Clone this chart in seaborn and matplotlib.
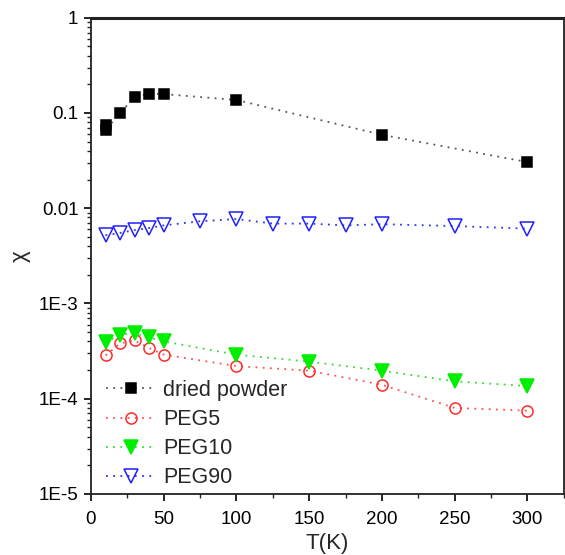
import matplotlib
matplotlib.use("Agg")
import matplotlib.pyplot as plt
import matplotlib.ticker as mticker
import seaborn as sns
import pandas as pd

# Data
t_dried = [10, 10, 20, 30, 40, 50, 100, 200, 300]
chi_dried = [0.075, 0.066, 0.10, 0.147, 0.160, 0.158, 0.137, 0.059, 0.0305]

t_peg5 = [10, 20, 30, 40, 50, 100, 150, 200, 250, 300]
chi_peg5 = [2.85e-4, 3.8e-4, 4.1e-4, 3.4e-4, 2.9e-4, 2.2e-4, 1.97e-4, 1.4e-4, 8.0e-5, 7.5e-5]

t_peg10 = [10, 20, 30, 40, 50, 100, 150, 200, 250, 300]
chi_peg10 = [3.9e-4, 4.7e-4, 4.9e-4, 4.4e-4, 4.0e-4, 2.9e-4, 2.45e-4, 1.97e-4, 1.52e-4, 1.36e-4]

t_peg90 = [10, 20, 30, 40, 50, 75, 100, 125, 150, 175, 200, 250, 300]
chi_peg90 = [5.2e-3, 5.5e-3, 5.9e-3, 6.2e-3, 6.6e-3, 7.3e-3, 7.7e-3, 6.9e-3, 6.9e-3, 6.6e-3, 6.8e-3, 6.5e-3, 6.1e-3]

labels = ["dried powder", "PEG5", "PEG10", "PEG90"]
y_ticks = [1e-5, 1e-4, 1e-3, 1e-2, 1e-1, 1]
y_ticklabels = ["1E-5", "1E-4", "1E-3", "0.01", "0.1", "1"]
x_ticks = [0, 50, 100, 150, 200, 250, 300]

sns.set_theme(style="white")
plt.rcParams["font.family"] = ["Liberation Sans", "DejaVu Sans"]

fig = plt.figure(figsize=(5.65, 5.55), dpi=100)
ax = fig.add_axes([0.161, 0.110, 0.837, 0.858])

series = [
    (t_dried, chi_dried, labels[0], "#555555", "s", "black", "black", 7),
    (t_peg5, chi_peg5, labels[1], "#ff5050", "o", "none", "#ff2a2a", 8),
    (t_peg10, chi_peg10, labels[2], "#33dd33", "v", "#00ee00", "#00ee00", 9.5),
    (t_peg90, chi_peg90, labels[3], "#3333ee", "v", "none", "#2020ff", 9.5),
]

for t, c, lab, lc, mk, mfc, mec, ms in series:
    df = pd.DataFrame({"T": t, "chi": c})
    sns.lineplot(data=df, x="T", y="chi", ax=ax, estimator=None, sort=False,
                 color=lc, linestyle=(0, (1, 3)), linewidth=1.3,
                 marker=mk, markersize=ms, markerfacecolor=mfc,
                 markeredgecolor=mec, markeredgewidth=1.1, label=lab)

ax.set_yscale("log")
ax.set_ylim(1e-5, 1)
ax.set_xlim(0, 325)
ax.yaxis.set_major_locator(mticker.FixedLocator(y_ticks))
ax.yaxis.set_major_formatter(mticker.FixedFormatter(y_ticklabels))
ax.yaxis.set_minor_locator(mticker.LogLocator(base=10, subs=range(2, 10), numticks=20))
ax.yaxis.set_minor_formatter(mticker.NullFormatter())
ax.xaxis.set_major_locator(mticker.FixedLocator(x_ticks))
ax.xaxis.set_minor_locator(mticker.MultipleLocator(25))

ax.tick_params(axis="both", which="major", direction="out", length=5, width=1.2,
               labelsize=13.5, colors="black", bottom=True, left=True, pad=4)
ax.tick_params(axis="x", which="major", pad=7)
ax.tick_params(axis="both", which="minor", direction="out", length=3, width=1.0,
               bottom=True, left=True)
for sp in ax.spines.values():
    sp.set_color("#222222")
    sp.set_linewidth(1.3)
ax.spines["top"].set_linewidth(2.2)

ax.set_xlabel("T(K)", fontsize=16, labelpad=4)
ax.set_ylabel("χ", fontsize=16, labelpad=6)

leg = ax.legend(loc="lower left", bbox_to_anchor=(0.0, -0.02), frameon=False,
                fontsize=15.5, handlelength=2.3, handletextpad=0.35, labelspacing=0.38,
                borderaxespad=0.3)

fig.savefig("out.png", dpi=100, facecolor="white")
